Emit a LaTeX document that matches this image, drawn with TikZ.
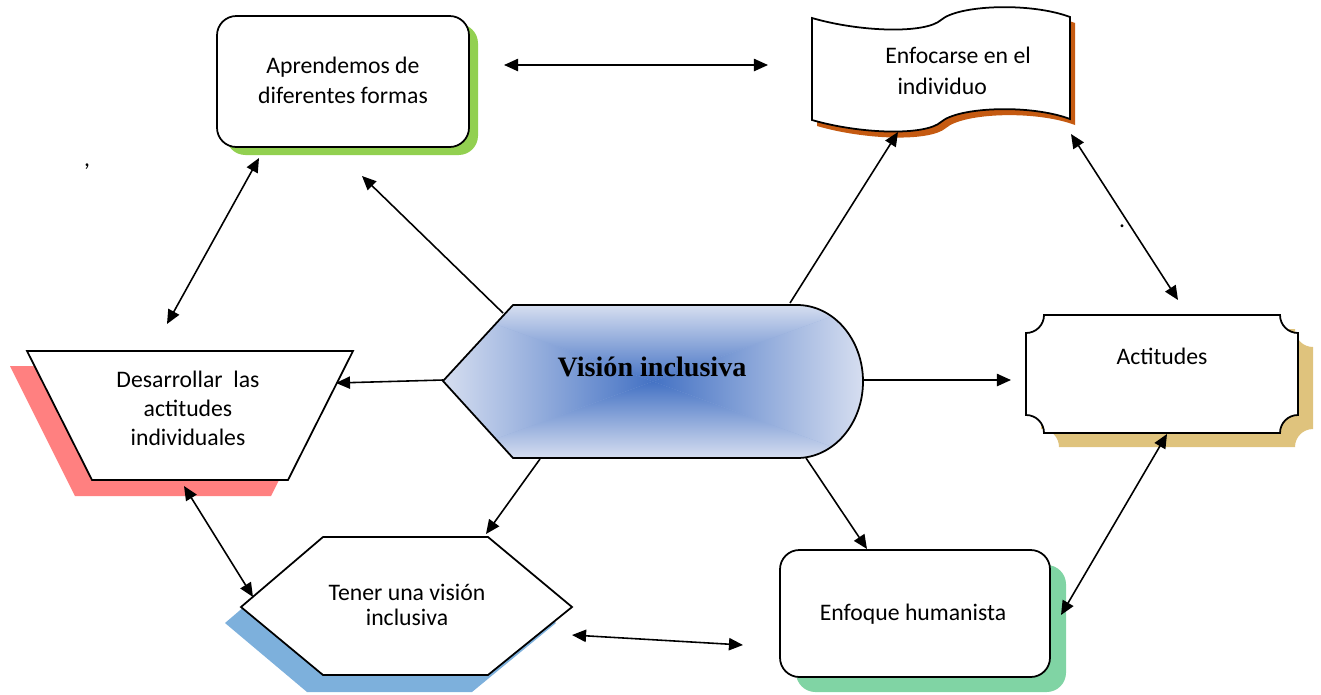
\documentclass[tikz,border=0pt]{standalone}
\usepackage{fontspec}
\setmainfont{Carlito}
\newfontfamily\tnr{Liberation Serif}
\usetikzlibrary{arrows.meta}
\definecolor{cgreen}{RGB}{146,208,80}
\definecolor{corange}{RGB}{197,90,17}
\definecolor{ctan}{RGB}{223,195,125}
\definecolor{cpink}{RGB}{255,128,128}
\definecolor{cblue}{RGB}{125,176,220}
\definecolor{cgreentwo}{RGB}{128,212,164}
\definecolor{vcen}{RGB}{68,114,196}
\definecolor{vout}{RGB}{214,222,240}
\pgfdeclareverticalshading{vaxis}{100bp}{color(0bp)=(vcen); color(25bp)=(vcen); color(75bp)=(vout); color(100bp)=(vout)}
\tikzset{
  box/.style={draw=black, line width=1pt, fill=white},
  lbl/.style={font=\fontsize{13.5}{17}\selectfont, align=center, inner sep=0pt},
  arr/.style={line width=0.9pt, -{Triangle[length=8pt,width=7pt]}},
  darr/.style={line width=0.9pt, {Triangle[length=8pt,width=7pt]}-{Triangle[length=8pt,width=7pt]}},
}
\begin{document}
\begin{tikzpicture}[x=0.02cm,y=-0.02cm]
\useasboundingbox (0,0) rectangle (1321,694);

% Aprendemos
\fill[cgreen, rounded corners=11pt] (226,24) rectangle (478,155);
\draw[box, rounded corners=11pt] (217,16) rectangle (469,147);
\node[lbl] (apr) at (343,80) {Aprendemos de\\diferentes formas};

% Enfocarse
\fill[corange, shift={(5,6)}] (812,18) .. controls (860,32) and (925,34) .. (941,20) .. controls (958,5) and (1030,2) .. (1070,17) -- (1070,119) .. controls (1030,104) and (958,107) .. (941,122) .. controls (925,136) and (860,134) .. (812,120) -- cycle;
\draw[box] (812,18) .. controls (860,32) and (925,34) .. (941,20) .. controls (958,5) and (1030,2) .. (1070,17) -- (1070,119) .. controls (1030,104) and (958,107) .. (941,122) .. controls (925,136) and (860,134) .. (812,120) -- cycle;
\node[lbl, font=\fontsize{13.5}{18}\selectfont] (enf) at (958,71) {Enfocarse en el\\individuo\hspace*{18pt}};

% Actitudes
\fill[ctan, shift={(15,14)}] (1044,315) -- (1280,315) .. controls (1280,325) and (1288,333) .. (1298,333) -- (1298,415) .. controls (1288,415) and (1280,423) .. (1280,433) -- (1044,433) .. controls (1044,423) and (1036,415) .. (1026,415) -- (1026,333) .. controls (1036,333) and (1044,325) .. (1044,315) -- cycle;
\draw[box] (1044,315) -- (1280,315) .. controls (1280,325) and (1288,333) .. (1298,333) -- (1298,415) .. controls (1288,415) and (1280,423) .. (1280,433) -- (1044,433) .. controls (1044,423) and (1036,415) .. (1026,415) -- (1026,333) .. controls (1036,333) and (1044,325) .. (1044,315) -- cycle;
\node[lbl] (act) at (1162,356) {Actitudes};

% Desarrollar
\fill[cpink] (10,366) -- (336,366) -- (271,496) -- (75,496) -- cycle;
\draw[box] (27,351) -- (353,351) -- (288,480) -- (92,480) -- cycle;
\node[lbl, font=\fontsize{13.5}{16.5}\selectfont] (des) at (188,408) {Desarrollar\ \ las\\actitudes\\individuales};

% Tener
\fill[cblue] (225,623) -- (307,553) -- (472,553) -- (556,623) -- (472,692) -- (307,692) -- cycle;
\draw[box] (241,607) -- (323,537) -- (488,537) -- (572,607) -- (488,675) -- (323,675) -- cycle;
\node[lbl, font=\fontsize{13.5}{14.5}\selectfont] (ten) at (407,605) {Tener una visión\\inclusiva};

% Enfoque humanista
\fill[cgreentwo, rounded corners=11pt] (796,565) rectangle (1066,692);
\draw[box, rounded corners=11pt] (780,550) rectangle (1050,677);
\node[lbl] (hum) at (913,614) {Enfoque humanista};

% Central (rectangular gradient)
\begin{scope}
\clip (443,381) -- (513,305) -- (797,305) .. controls (833.5,305) and (863,339.3) .. (863,381.5) .. controls (863,423.7) and (833.5,458) .. (797,458) -- (513,458) -- cycle;
\fill[vcen!45!vout] (443,305) rectangle (863,458);
\shade[shading=vaxis] (443,305) -- (863,305) -- (653,381.5) -- cycle;
\shade[shading=vaxis, shading angle=180] (443,458) -- (863,458) -- (653,381.5) -- cycle;
\shade[shading=vaxis, shading angle=90] (443,305) -- (443,458) -- (653,381.5) -- cycle;
\shade[shading=vaxis, shading angle=-90] (863,305) -- (863,458) -- (653,381.5) -- cycle;
\end{scope}
\draw[line width=1pt] (443,381) -- (513,305) -- (797,305) .. controls (833.5,305) and (863,339.3) .. (863,381.5) .. controls (863,423.7) and (833.5,458) .. (797,458) -- (513,458) -- cycle;
\node[font=\tnr\bfseries\fontsize{16}{19}\selectfont, inner sep=0pt] (vis) at (652,367) {Visión inclusiva};

% stray marks
\node[lbl, anchor=base] (comma) at (87,166) {,};
\node[lbl, anchor=base] (dot) at (1122,227) {.};

% connector ends
\coordinate (a1s) at (504,65);   \coordinate (a1e) at (768,65);
\coordinate (a2s) at (503,313);  \coordinate (a2e) at (362,176);
\coordinate (a3s) at (790,303);  \coordinate (a3e) at (898,132);
\coordinate (a4s) at (1071,134); \coordinate (a4e) at (1178,300);
\coordinate (a5s) at (863,380);  \coordinate (a5e) at (1011,380);
\coordinate (a6s) at (443,380);  \coordinate (a6e) at (336,383);
\coordinate (a7s) at (259,158);  \coordinate (a7e) at (167,324);
\coordinate (a8s) at (184,486);  \coordinate (a8e) at (253,597);
\coordinate (a9s) at (540,459);  \coordinate (a9e) at (486,534);
\coordinate (a10s) at (806,458); \coordinate (a10e) at (867,549);
\coordinate (a11s) at (572,635); \coordinate (a11e) at (743,645);
\coordinate (a12s) at (1167,434);\coordinate (a12e) at (1061,615);

\draw[darr] (a1s) -- (a1e);
\draw[arr] (a2s) -- (a2e);
\draw[arr] (a3s) -- (a3e);
\draw[darr] (a4s) -- (a4e);
\draw[arr] (a5s) -- (a5e);
\draw[arr] (a6s) -- (a6e);
\draw[darr] (a7s) -- (a7e);
\draw[darr] (a8s) -- (a8e);
\draw[arr] (a9s) -- (a9e);
\draw[arr] (a10s) -- (a10e);
\draw[darr] (a11s) -- (a11e);
\draw[darr] (a12s) -- (a12e);
\end{tikzpicture}
\end{document}
